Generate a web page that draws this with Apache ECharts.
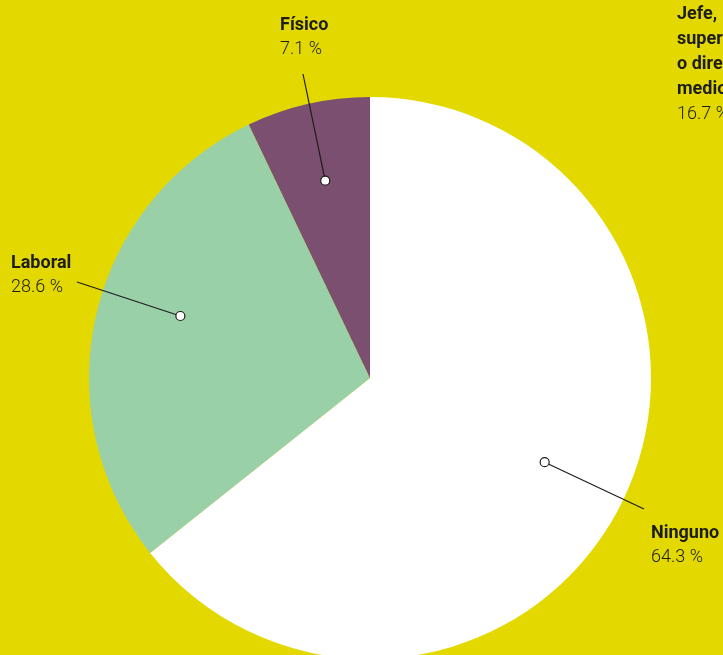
<!DOCTYPE html>
<html>
<head>
<meta charset="utf-8">
<script src="https://cdn.jsdelivr.net/npm/echarts@6/dist/echarts.min.js"></script>
<style>
html,body{margin:0;padding:0;background:#e3d900;}
#c{width:723px;height:655px;}
</style>
</head>
<body>
<div id="c"></div>
<script>
// Data
var categories = ['Ninguno', 'Laboral', 'Físico'];
var values = [64.3, 28.6, 7.1];
var valueLabels = ['64.3 %', '28.6 %', '7.1 %'];
// neighbouring (cut-off) annotation from the source page
var sideLabelLines = ['Jefe,', 'supervisor', 'o directivo', 'medio'];
var sideLabelValue = '16.7 %';

var colors = ['#ffffff', '#9ad0a8', '#7b4f70'];
var BG = '#e3d900';
var TXT = '#1d1d1b';
var FONT = 'Roboto, "Noto Sans", sans-serif';

// annotation layout (label anchor positions, dot placement within slice)
var labelPos = [
  {x: 651, y1: 533, y2: 557, lx: 644, ly: 509, frac: 0.5, rf: 0.69},
  {x: 11,  y1: 263, y2: 287, lx: 77,  ly: 282, frac: 0.55, rf: 0.71},
  {x: 280, y1: 25,  y2: 49,  lx: 303, ly: 74,  frac: 0.5, rf: 0.72}
];

var chart = echarts.init(document.getElementById('c'), null, {renderer: 'canvas'});
chart.setOption({
  backgroundColor: BG,
  animation: false,
  series: [{
    type: 'pie',
    center: [370, 378],
    radius: [0, 281],
    startAngle: 90,
    clockwise: true,
    label: {show: false},
    labelLine: {show: false},
    itemStyle: {borderWidth: 0},
    emphasis: {disabled: true},
    data: categories.map(function (c, i) {
      return {name: c, value: values[i], itemStyle: {color: colors[i]}};
    })
  }]
});

var graphics = [];
var data = chart.getModel().getSeriesByIndex(0).getData();
categories.forEach(function (c, i) {
  var lay = data.getItemLayout(i);
  var p = labelPos[i];
  var ang = lay.startAngle + (lay.endAngle - lay.startAngle) * p.frac;
  var dx = lay.cx + lay.r * p.rf * Math.cos(ang);
  var dy = lay.cy + lay.r * p.rf * Math.sin(ang);
  graphics.push({
    type: 'line', silent: true,
    shape: {x1: p.lx, y1: p.ly, x2: dx, y2: dy},
    style: {stroke: TXT, lineWidth: 1.2}, z: 10
  });
  graphics.push({
    type: 'circle', silent: true,
    shape: {cx: dx, cy: dy, r: 4.5},
    style: {fill: '#ffffff', stroke: TXT, lineWidth: 1.2}, z: 11
  });
  graphics.push({
    type: 'text', silent: true, x: p.x, y: p.y1,
    style: {text: c, font: 'bold 18px ' + FONT, fill: TXT, verticalAlign: 'middle'}, z: 12
  });
  graphics.push({
    type: 'text', silent: true, x: p.x, y: p.y2,
    style: {text: valueLabels[i], font: '300 18px ' + FONT, fill: TXT, verticalAlign: 'middle'}, z: 12
  });
});
sideLabelLines.forEach(function (t, i) {
  graphics.push({
    type: 'text', silent: true, x: 677, y: 14 + i * 25,
    style: {text: t, font: 'bold 18px ' + FONT, fill: TXT, verticalAlign: 'middle'}, z: 12
  });
});
graphics.push({
  type: 'text', silent: true, x: 677, y: 114,
  style: {text: sideLabelValue, font: '300 18px ' + FONT, fill: TXT, verticalAlign: 'middle'}, z: 12
});
chart.setOption({graphic: graphics});
</script>
</body>
</html>
